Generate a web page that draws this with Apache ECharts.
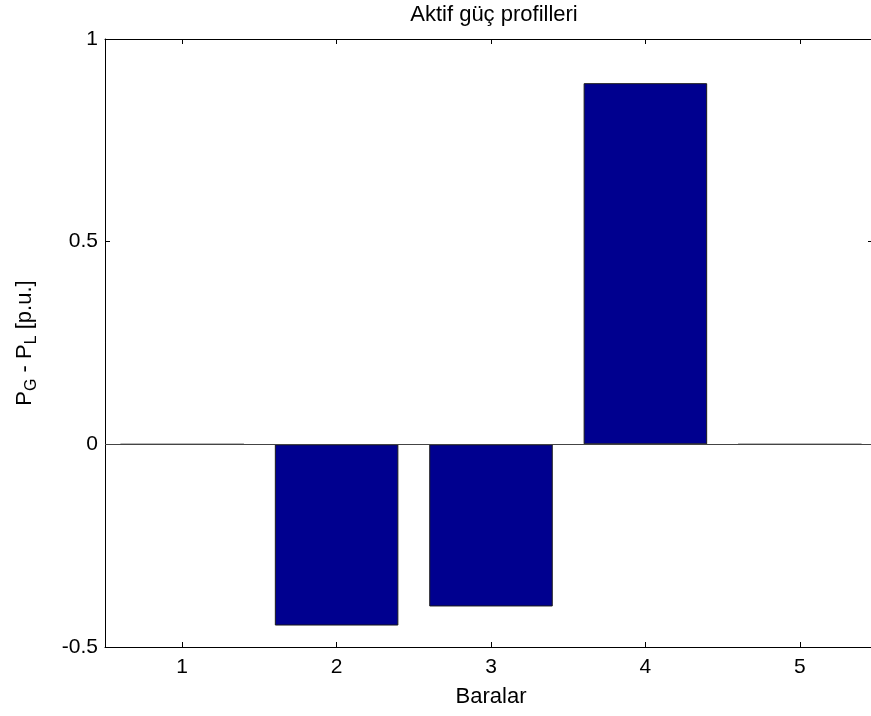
<!DOCTYPE html>
<html>
<head>
<meta charset="utf-8">
<script src="https://cdn.jsdelivr.net/npm/echarts@6/dist/echarts.min.js"></script>
<style>
html,body{margin:0;padding:0;background:#fff;overflow:hidden;width:871px;height:716px;}
#wrap{width:871px;height:716px;overflow:hidden;position:relative;}
#chart{width:884px;height:716px;position:absolute;left:0;top:0;}
</style>
</head>
<body>
<div id="wrap"><div id="chart"></div></div>
<script>
const categories = ['1', '2', '3', '4', '5'];
const values = [0, -0.447, -0.40, 0.891, 0];
const titleText = 'Aktif güç profilleri';
const xName = 'Baralar';

const FONT = 'Liberation Sans, Arial, sans-serif';
const chart = echarts.init(document.getElementById('chart'), null, {renderer: 'canvas'});
const tickStyle = {show: true, inside: true, length: 5, lineStyle: {color: '#000', width: 1}};
const lineStyle = {show: true, onZero: false, lineStyle: {color: '#000', width: 1}};
chart.setOption({
  animation: false,
  backgroundColor: '#fff',
  title: {
    text: titleText, left: 489, top: -1, textAlign: 'center',
    textStyle: {fontFamily: FONT, fontSize: 22, fontWeight: 'normal', color: '#000'}
  },
  grid: {left: 105, top: 39, width: 772, height: 608},
  xAxis: [{
    type: 'category', data: categories, position: 'bottom',
    axisLine: lineStyle, axisTick: Object.assign({alignWithLabel: true}, tickStyle),
    axisLabel: {margin: 10, fontFamily: FONT, fontSize: 21, color: '#000'},
    splitLine: {show: false},
    name: xName, nameLocation: 'middle', nameGap: 39,
    nameTextStyle: {fontFamily: FONT, fontSize: 22, color: '#000'}
  }, {
    type: 'category', data: categories, position: 'top',
    axisLine: lineStyle, axisTick: Object.assign({alignWithLabel: true}, tickStyle),
    axisLabel: {show: false}, splitLine: {show: false}
  }],
  yAxis: [{
    type: 'value', min: -0.5, max: 1, interval: 0.5, position: 'left',
    axisLine: lineStyle, axisTick: tickStyle,
    axisLabel: {margin: 7, fontFamily: FONT, fontSize: 21, color: '#000'},
    splitLine: {show: false},
    name: '{a|P}{sub|G}{a| - P}{sub|L}{a| [p.u.]}',
    nameLocation: 'middle', nameGap: 70, nameRotate: 90,
    nameTextStyle: {
      fontFamily: FONT, color: '#000',
      rich: {
        a: {fontFamily: FONT, fontSize: 22, lineHeight: 21, verticalAlign: 'top', color: '#000'},
        sub: {fontFamily: FONT, fontSize: 16, lineHeight: 16, padding: [10, 0, 0, 0], verticalAlign: 'top', color: '#000'}
      }
    }
  }, {
    type: 'value', min: -0.5, max: 1, interval: 0.5, position: 'right',
    axisLine: {show: false},
    axisTick: {show: true, inside: true, length: 9, lineStyle: {color: '#000', width: 1}},
    axisLabel: {show: false}, splitLine: {show: false}
  }],
  series: [{
    type: 'bar', data: values, xAxisIndex: 0, yAxisIndex: 0,
    barCategoryGap: '20%',
    itemStyle: {color: '#00008F', borderColor: '#1a1a1a', borderWidth: 1},
    markLine: {
      silent: true, symbol: 'none', label: {show: false},
      lineStyle: {color: '#444', width: 1, type: 'solid'},
      data: [{yAxis: 0}]
    }
  }]
});
</script>
</body>
</html>
